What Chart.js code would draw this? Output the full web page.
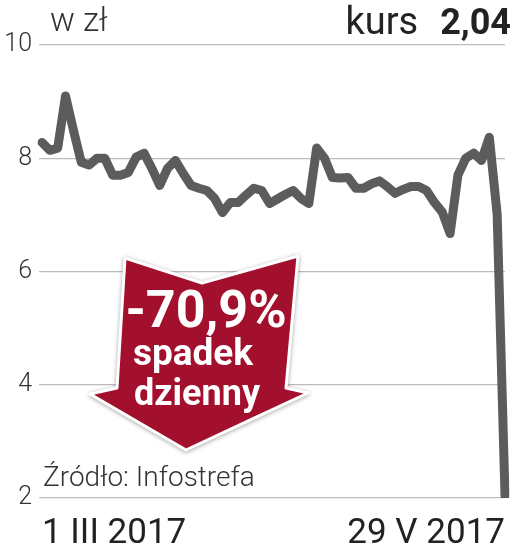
<!DOCTYPE html>
<html>
<head>
<meta charset="utf-8">
<script src="https://cdn.jsdelivr.net/npm/chart.js@4"></script>
<style>
  html, body { margin: 0; padding: 0; background: #fff; }
  #wrap { position: relative; width: 512px; height: 549px; overflow: hidden; font-family: Roboto, "Noto Sans", sans-serif; }
  #wrap canvas { position: absolute; left: 0; top: 0; }
  .lbl { position: absolute; white-space: nowrap; color: #222; line-height: 1; }
  #unit { left: 50px; top: 3px; font-size: 33px; font-weight: 300; color: #333; }
  #kurs { right: 1px; top: 2px; font-size: 38px; }
  #kurs b { font-size: 36px; font-weight: 700; margin-left: 22px; }
  #src { left: 43px; top: 463px; font-size: 28px; font-weight: 300; color: #333; }
  #arrow { position: absolute; left: 0; top: 0; }
</style>
</head>
<body>
<div id="wrap">
  <canvas id="wykres" width="512" height="549"></canvas>
  <svg id="arrow" width="512" height="549">
    <polygon points="125,258 202,283 298,256 286,388 308,393 186,450 90,394 117,388"
             fill="#a3102d" stroke="#fff" stroke-width="3" stroke-linejoin="round"
             style="filter: drop-shadow(0 1px 2px rgba(0,0,0,0.35))"/>
    <g font-family="Roboto, 'Noto Sans', sans-serif" font-weight="700" fill="#fff" text-anchor="middle">
      <text x="206" y="327" font-size="52">-70,9%</text>
      <text x="193" y="365" font-size="37">spadek</text>
      <text x="197" y="405" font-size="36">dzienny</text>
    </g>
  </svg>
  <div class="lbl" id="unit">w zł</div>
  <div class="lbl" id="kurs">kurs<b>2,04</b></div>
  <div class="lbl" id="src">Źródło: Infostrefa</div>
</div>
<script>
// ===============================
// DANE - kurs akcji w zł (sesje 1 III - 29 V 2017)
// ===============================

const kurs = [
    8.28, 8.14, 8.18, 9.10, 8.50, 7.93, 7.88, 8.00, 8.00, 7.70,
    7.70, 7.75, 8.02, 8.09, 7.82, 7.52, 7.82, 7.96, 7.73, 7.52,
    7.47, 7.43, 7.29, 7.04, 7.22, 7.22, 7.35, 7.47, 7.43, 7.20,
    7.28, 7.36, 7.43, 7.29, 7.20, 8.18, 8.00, 7.66, 7.65, 7.66,
    7.47, 7.47, 7.55, 7.60, 7.50, 7.38, 7.45, 7.50, 7.50, 7.43,
    7.22, 7.05, 6.67, 7.70, 8.00, 8.09, 7.96, 8.37, 7.01, 2.04
];

const datyOpis = ["1 III 2017", "29 V 2017"]; // pierwsza i ostatnia sesja
const osY = [2, 4, 6, 8, 10];

const sesje = kurs.map((_, i) =>
    i === 0 ? datyOpis[0] : (i === kurs.length - 1 ? datyOpis[1] : "")
);

// ===============================
// WYKRES
// ===============================

new Chart(document.getElementById("wykres"), {
    type: "line",
    data: {
        labels: sesje,
        datasets: [{
            data: kurs,
            borderColor: "#5c5c5c",
            borderWidth: 9,
            borderJoinStyle: "round",
            borderCapStyle: "round",
            pointRadius: 0,
            tension: 0
        }]
    },
    options: {
        responsive: false,
        animation: false,
        layout: { padding: { top: 45, right: 5, left: 0, bottom: 0 } },
        plugins: {
            legend: { display: false },
            tooltip: { enabled: false }
        },
        scales: {
            x: {
                grid: { display: false },
                border: { display: false },
                afterFit: (s) => { s.height = 51; },
                ticks: {
                    autoSkip: false,
                    maxRotation: 0,
                    align: "inner",
                    padding: 7,
                    color: "#222",
                    font: { family: "Roboto", size: 35 },
                    callback: (v, i) => sesje[i] || null
                }
            },
            y: {
                min: osY[0],
                max: osY[osY.length - 1],
                afterFit: (s) => { s.width = 42; },
                afterBuildTicks: (s) => { s.ticks = osY.map(v => ({ value: v })); },
                grid: { color: "#bcbcbc", lineWidth: 1.2, tickLength: 3 },
                border: { display: false },
                ticks: {
                    padding: 7,
                    color: "#333",
                    font: { family: "Roboto", size: 25, weight: "300" }
                }
            }
        }
    }
});
</script>
</body>
</html>
